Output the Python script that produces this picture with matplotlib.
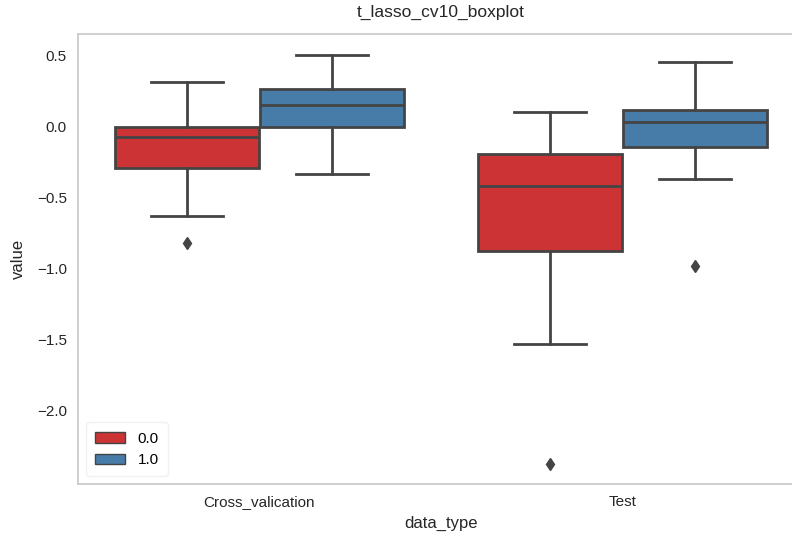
import matplotlib
matplotlib.use("Agg")
import matplotlib.pyplot as plt
from matplotlib.patches import Patch

plt.rcParams['font.family'] = ['Liberation Sans', 'DejaVu Sans']

# ---- data ----
categories = ["Cross_valication", "Test"]
groups = ["0.0", "1.0"]
colors = ["#cb3335", "#477ca8"]

# per group: [Cross_valication, Test]
whislo = {"0.0": [-0.625, -1.53], "1.0": [-0.33, -0.37]}
q1 = {"0.0": [-0.29, -0.875], "1.0": [0.0, -0.14]}
med = {"0.0": [-0.075, -0.42], "1.0": [0.155, 0.03]}
q3 = {"0.0": [0.0, -0.19], "1.0": [0.265, 0.12]}
whishi = {"0.0": [0.315, 0.10], "1.0": [0.507, 0.452]}
fliers = {"0.0": [[-0.815], [-2.37]], "1.0": [[], [-0.98]]}

edge = "#444444"
fig = plt.figure(figsize=(7.92, 5.35), dpi=100)
ax = fig.add_axes([78 / 792, 51 / 535, 726 / 792, 450 / 535])

offsets = [-0.2, 0.2]
for g_idx, g in enumerate(groups):
    stats = []
    for c_idx in range(len(categories)):
        stats.append(dict(med=med[g][c_idx], q1=q1[g][c_idx], q3=q3[g][c_idx],
                          whislo=whislo[g][c_idx], whishi=whishi[g][c_idx],
                          fliers=fliers[g][c_idx]))
    pos = [i + offsets[g_idx] for i in range(len(categories))]
    ax.bxp(stats, positions=pos, widths=0.395, capwidths=0.2,
           patch_artist=True, manage_ticks=False,
           boxprops=dict(facecolor=colors[g_idx], edgecolor=edge, linewidth=2),
           medianprops=dict(color=edge, linewidth=2),
           whiskerprops=dict(color=edge, linewidth=2),
           capprops=dict(color=edge, linewidth=2),
           flierprops=dict(marker='d', markerfacecolor=edge, markeredgecolor=edge,
                           markersize=6))

ax.set_xlim(-0.5, 1.5)
ax.set_ylim(-2.514, 0.652)
ax.set_xticks(range(len(categories)))
ax.set_xticklabels(categories)
ax.set_yticks([0.5, 0.0, -0.5, -1.0, -1.5, -2.0])
ax.tick_params(length=0, labelsize=11, labelcolor='#262626', pad=8)
for s in ax.spines.values():
    s.set_color('#cccccc')
    s.set_linewidth(1.3)

ax.set_title("t_lasso_cv10_boxplot", fontsize=12.5, color='#262626', pad=12)
ax.set_xlabel("data_type", fontsize=12, color='#262626', labelpad=5)
ax.set_ylabel("value", fontsize=12, color='#262626', labelpad=8)

handles = [Patch(facecolor=c, edgecolor=edge, label=g) for c, g in zip(colors, groups)]
ax.legend(handles=handles, loc='lower left', fontsize=11, frameon=True,
          edgecolor='#eeeeee', borderpad=0.6, handlelength=2.0)

fig.savefig("out.png", dpi=100)
